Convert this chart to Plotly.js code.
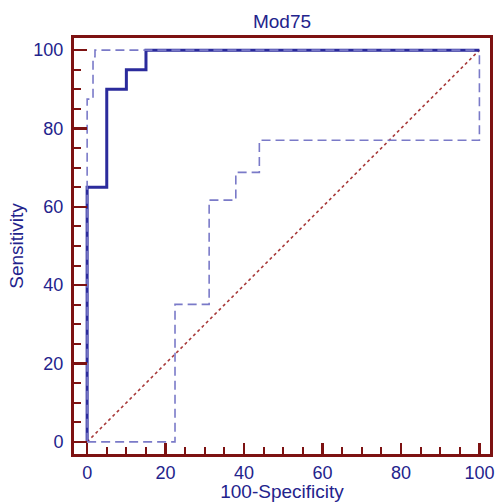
<!DOCTYPE html>
<html>
<head>
<meta charset="utf-8">
<script src="https://cdn.plot.ly/plotly-3.0.1.min.js"></script>
<style>html,body{margin:0;padding:0;background:#fff;}#chart{width:495px;height:502px;}</style>
</head>
<body>
<div id="chart"></div>
<script>
// ROC curve (solid)
var rocX = [0, 0, 5, 5, 10, 10, 15, 15, 100];
var rocY = [0, 65, 65, 90, 90, 95, 95, 100, 100];
// Upper confidence bound (dashed)
var upperX = [0, 0, 1.5, 1.5, 2, 2, 100];
var upperY = [0, 87.5, 87.5, 98.3, 98.3, 100, 100];
// Lower confidence bound (dashed)
var lowerX = [0, 22.4, 22.4, 31.1, 31.1, 37.9, 37.9, 43.9, 43.9, 100, 100];
var lowerY = [0, 0, 35.1, 35.1, 61.7, 61.7, 68.8, 68.8, 77, 77, 100];
// Reference diagonal
var diagX = [0, 100];
var diagY = [0, 100];
var tickVals = [0, 20, 40, 60, 80, 100];
var tickText = ['0', '20', '40', '60', '80', '100'];

var frame = '#7d1212';
var navy = '#23238c';
var font = 'Liberation Sans, Arial, sans-serif';

var traces = [
  {x: diagX, y: diagY, mode: 'lines', line: {color: '#a83a3a', width: 1.6, dash: 'dot'}, hoverinfo: 'skip'},
  {x: rocX, y: rocY, mode: 'lines', line: {color: '#2b2b9c', width: 3}},
  {x: upperX, y: upperY, mode: 'lines', line: {color: '#7a7ac8', width: 1.6, dash: '9px,5px'}},
  {x: lowerX, y: lowerY, mode: 'lines', line: {color: '#7a7ac8', width: 1.6, dash: '9px,5px'}}
];

var axisCommon = {
  showgrid: false, zeroline: false, showline: true, linecolor: frame, linewidth: 3,
  mirror: true, ticks: 'inside', tickcolor: frame, tickwidth: 2.5,
  tickvals: tickVals, ticktext: tickText,
  tickfont: {family: font, size: 18, color: navy},
  minor: {ticks: 'inside', dtick: 5, tick0: 0, ticklen: 7, tickwidth: 2, tickcolor: frame}
};

var layout = {
  width: 495, height: 502,
  margin: {l: 74, r: 5, t: 38, b: 48},
  paper_bgcolor: '#fff', plot_bgcolor: '#fff',
  showlegend: false,
  title: {text: 'Mod75', font: {family: font, size: 19, color: navy}, xref: 'paper', x: 0.5, xanchor: 'center', yref: 'container', y: 0.957, yanchor: 'middle'},
  xaxis: Object.assign({}, axisCommon, {range: [-3.35, 102.7], ticklen: 11, ticklabelstandoff: 0,
    title: {text: '100-Specificity', font: {family: font, size: 19, color: navy}, standoff: 1}}),
  yaxis: Object.assign({}, axisCommon, {range: [-3.1, 103.1], ticklen: 13, ticklabelstandoff: 4,
    title: {text: 'Sensitivity', font: {family: font, size: 19, color: navy}, standoff: 5}})
};
layout.xaxis.automargin = false;
layout.yaxis.automargin = false;

Plotly.newPlot('chart', traces, layout, {displayModeBar: false, staticPlot: true});
</script>
</body>
</html>
